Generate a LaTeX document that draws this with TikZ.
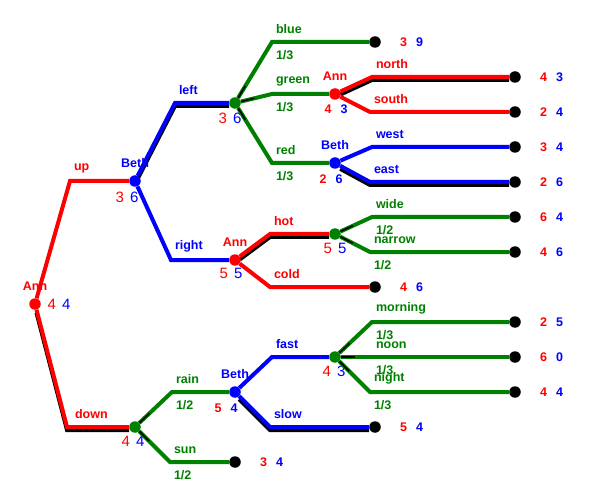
\documentclass[tikz,border=0pt]{standalone}
\usepackage{fontspec}
\setmainfont{Liberation Sans}
\usetikzlibrary{positioning, calc}

\definecolor{annred}{RGB}{255,0,0}
\definecolor{bethblue}{RGB}{0,0,255}
\definecolor{chancegreen}{RGB}{0,128,0}

\newcommand{\labfont}{\fontsize{12.5}{14}\selectfont\bfseries}
\newcommand{\valfont}{\fontsize{15}{17}\selectfont}
\newcommand{\pay}[2]{{\color{annred}#1}\hspace{9pt}{\color{bethblue}#2}}
\newcommand{\bigpay}[2]{{\color{annred}#1}\hspace{6pt}{\color{bethblue}#2}}

\pgfdeclarelayer{background}
\pgfsetlayers{background,main}

\begin{document}
\begin{tikzpicture}[x=1pt, y=-1pt,
    dot/.style={circle, inner sep=0pt, minimum size=11.5pt},
    ann/.style={dot, fill=annred},
    beth/.style={dot, fill=bethblue},
    chance/.style={dot, fill=chancegreen},
    leaf/.style={dot, fill=black},
    who/.style={font=\labfont, inner sep=0pt, yshift=7pt},
    branch/.style={line width=4pt, to path={-- ($(\tikztostart |- \tikztotarget)+(#1,0)$) -- (\tikztotarget) \tikztonodes}},
    branch/.default=37,
    shadow/.style={draw=black, transform canvas={yshift=-3pt}},
    stub/.style={black, line width=1.5pt, to path={let \p1=($(\tikztostart |- \tikztotarget)+(#1,0)$) in (\tikztostart) -- ($(\tikztostart)!20pt!(\p1)$)}},
    stub/.default=37,
    move/.style={pos=0, anchor=south west, inner sep=1pt, xshift=1pt, yshift=5pt, font=\labfont},
    prob/.style={pos=0, anchor=north west, inner sep=1pt, xshift=1pt, yshift=-5pt, font=\labfont, text=chancegreen},
    payoff/.style={inner sep=0pt, font=\labfont},
    val/.style={inner sep=0pt, font=\valfont},
    smallval/.style={inner sep=0pt, font=\labfont}
]
    \useasboundingbox (0,0) rectangle (589,497);

    % decision and chance nodes
    \node[ann, label={[who, annred]above:Ann}] (root) at (35,304) {};
    \node[beth, label={[who, bethblue]above:Beth}] (beth1) at (135,181) {};
    \node[chance] (chance1) at (235,103) {};
    \node[ann, label={[who, annred]above:Ann}] (ann2) at (335,94) {};
    \node[beth, label={[who, bethblue]above:Beth}] (beth2) at (335,163) {};
    \node[ann, label={[who, annred]above:Ann}] (ann3) at (235,260) {};
    \node[chance] (chance2) at (335,234) {};
    \node[chance] (chance3) at (135,427) {};
    \node[beth, label={[who, bethblue]above:Beth}] (beth3) at (235,392) {};
    \node[chance] (chance4) at (335,357) {};

    % end points
    \node[leaf] (tblue) at (375,42) {};
    \node[leaf] (tnorth) at (515,77) {};
    \node[leaf] (tsouth) at (515,112) {};
    \node[leaf] (twest) at (515,147) {};
    \node[leaf] (teast) at (515,182) {};
    \node[leaf] (twide) at (515,217) {};
    \node[leaf] (tnarrow) at (515,252) {};
    \node[leaf] (tcold) at (375,287) {};
    \node[leaf] (tmorning) at (515,322) {};
    \node[leaf] (tnoon) at (515,357) {};
    \node[leaf] (tnight) at (515,392) {};
    \node[leaf] (tslow) at (375,427) {};
    \node[leaf] (tsun) at (235,462) {};

    % payoffs
    \node[payoff, right=19pt of tblue] (pblue) {\pay{3}{9}};
    \node[payoff, right=19pt of tnorth] (pnorth) {\pay{4}{3}};
    \node[payoff, right=19pt of tsouth] (psouth) {\pay{2}{4}};
    \node[payoff, right=19pt of twest] (pwest) {\pay{3}{4}};
    \node[payoff, right=19pt of teast] (peast) {\pay{2}{6}};
    \node[payoff, right=19pt of twide] (pwide) {\pay{6}{4}};
    \node[payoff, right=19pt of tnarrow] (pnarrow) {\pay{4}{6}};
    \node[payoff, right=19pt of tcold] (pcold) {\pay{4}{6}};
    \node[payoff, right=19pt of tmorning] (pmorning) {\pay{2}{5}};
    \node[payoff, right=19pt of tnoon] (pnoon) {\pay{6}{0}};
    \node[payoff, right=19pt of tnight] (pnight) {\pay{4}{4}};
    \node[payoff, right=19pt of tslow] (pslow) {\pay{5}{4}};
    \node[payoff, right=19pt of tsun] (psun) {\pay{3}{4}};

    % backed-up values
    \node[val] (vroot) at (59,304) {\bigpay{4}{4}};
    \node[val] (vbeth1) at (127,197) {\bigpay{3}{6}};
    \node[val] (vchance1) at (230,118) {\bigpay{3}{6}};
    \node[smallval] (vann2) at (336,109) {\pay{4}{3}};
    \node[smallval] (vbeth2) at (331,179) {\pay{2}{6}};
    \node[val] (vann3) at (231,273) {\bigpay{5}{5}};
    \node[val] (vchance2) at (335,248) {\bigpay{5}{5}};
    \node[val] (vchance3) at (133,441) {\bigpay{4}{4}};
    \node[smallval] (vbeth3) at (226,408) {\pay{5}{4}};
    \node[val] (vchance4) at (334,371) {\bigpay{4}{3}};

    % chosen moves
    \begin{pgfonlayer}{background}
        \draw[branch=32, shadow] (root) to (chance3);
        \draw[branch=40, shadow] (beth1) to (chance1);
        \draw[branch, shadow] (ann2) to (tnorth);
        \draw[branch=35, shadow] (beth2) to (teast);
        \draw[branch=35, shadow] (ann3) to (chance2);
        \draw[branch=35, shadow] (beth3) to (tslow);
    \end{pgfonlayer}

    % moves
    \draw[branch=35, annred] (root) to node[move]{up} (beth1);
    \draw[branch=32, annred] (root) to node[move, xshift=4pt]{down} (chance3);
    \draw[branch=40, bethblue] (beth1) to node[move]{left} (chance1);
    \draw[branch=36, bethblue] (beth1) to node[move]{right} (ann3);
    \draw[branch, chancegreen] (chance1) to node[move]{blue} node[prob]{1/3} (tblue);
    \draw[branch, chancegreen] (chance1) to node[move]{green} node[prob]{1/3} (ann2);
    \draw[branch, chancegreen] (chance1) to node[move]{red} node[prob]{1/3} (beth2);
    \draw[branch, annred] (ann2) to node[move]{north} (tnorth);
    \draw[branch=35, annred] (ann2) to node[move]{south} (tsouth);
    \draw[branch, bethblue] (beth2) to node[move]{west} (twest);
    \draw[branch=35, bethblue] (beth2) to node[move]{east} (teast);
    \draw[branch=35, annred] (ann3) to node[move]{hot} (chance2);
    \draw[branch=35, annred] (ann3) to node[move]{cold} (tcold);
    \draw[branch, chancegreen] (chance2) to node[move]{wide} node[prob]{1/2} (twide);
    \draw[branch=35, chancegreen] (chance2) to node[move]{narrow} node[prob]{1/2} (tnarrow);
    \draw[branch, chancegreen] (chance3) to node[move]{rain} node[prob]{1/2} (beth3);
    \draw[branch=35, chancegreen] (chance3) to node[move]{sun} node[prob]{1/2} (tsun);
    \draw[branch, bethblue] (beth3) to node[move]{fast} (chance4);
    \draw[branch=35, bethblue] (beth3) to node[move]{slow} (tslow);
    \draw[branch, chancegreen] (chance4) to node[move]{morning} node[prob]{1/3} (tmorning);
    \draw[branch, chancegreen] (chance4) to node[move]{noon} node[prob]{1/3} (tnoon);
    \draw[branch=35, chancegreen] (chance4) to node[move]{night} node[prob]{1/3} (tnight);

    % expectation marks at chance nodes
    \draw[stub] (chance1) to (tblue);
    \draw[stub] (chance1) to (ann2);
    \draw[stub] (chance1) to (beth2);
    \draw[stub] (chance2) to (twide);
    \draw[stub=35] (chance2) to (tnarrow);
    \draw[stub] (chance3) to (beth3);
    \draw[stub=35] (chance3) to (tsun);
    \draw[stub] (chance4) to (tmorning);
    \draw[stub] (chance4) to (tnoon);
    \draw[stub=35] (chance4) to (tnight);
\end{tikzpicture}
\end{document}
